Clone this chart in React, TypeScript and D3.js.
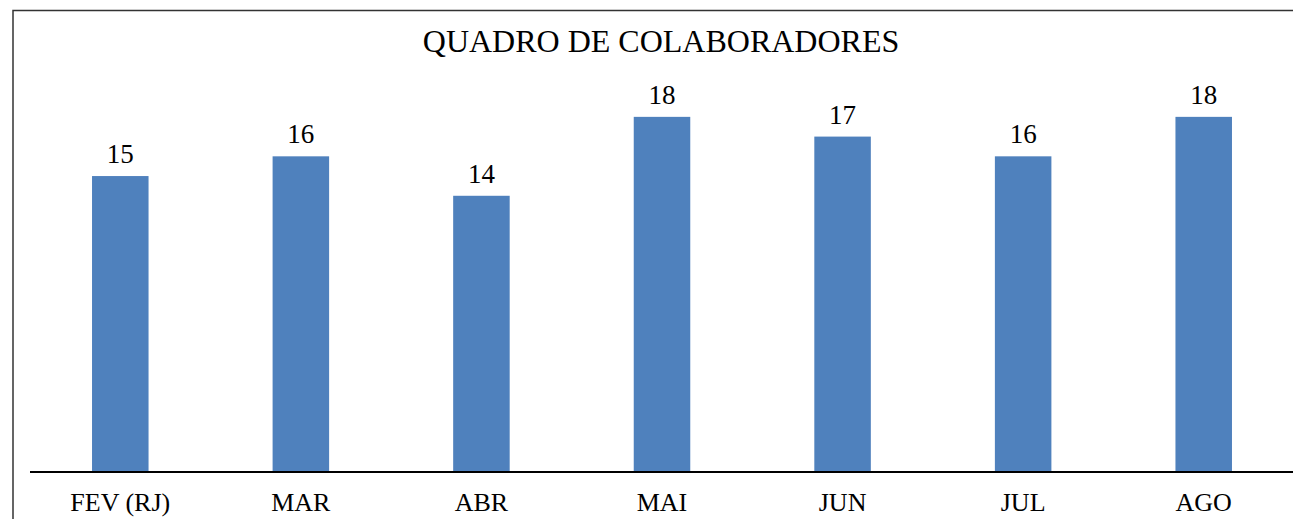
import React from "react";
import * as d3 from "d3";

const months = ["FEV (RJ)", "MAR", "ABR", "MAI", "JUN", "JUL", "AGO"];
const staff = [15, 16, 14, 18, 17, 16, 18];
const title = "QUADRO DE COLABORADORES";

const W = 1293;
const H = 519;
const baseY = 472;

export default function App() {
  const x = d3.scaleBand<string>()
    .domain(months)
    .range([30, 1294])
    .paddingInner(0.687)
    .paddingOuter(0.3435);

  const y = d3.scaleLinear()
    .domain([0, 20])
    .range([baseY, 77.4]);

  const serif = "'Liberation Serif', 'Times New Roman', serif";

  return (
    <svg
      width={W}
      height={H}
      style={{ position: "absolute", left: 0, top: 0, background: "#fff" }}
    >
      {/* chart frame, right and bottom edges run off the page */}
      <rect x={13} y={10.5} width={1400} height={600} fill="#fff" stroke="#333" strokeWidth={1.5} />

      <text x={661} y={52} textAnchor="middle" fontFamily={serif} fontSize={32} fill="#000">
        {title}
      </text>

      {staff.map((v, i) => {
        const m = months[i];
        const bx = x(m) as number;
        return (
          <g key={m}>
            <rect x={bx} y={y(v)} width={x.bandwidth()} height={baseY - y(v)} fill="#4F81BD" />
            <text
              x={bx + x.bandwidth() / 2}
              y={y(v) - 13}
              textAnchor="middle"
              fontFamily={serif}
              fontSize={27}
              fill="#000"
            >
              {v}
            </text>
          </g>
        );
      })}

      <line x1={30} x2={W} y1={baseY} y2={baseY} stroke="#000" strokeWidth={2} />

      {months.map((m) => (
        <text
          key={m}
          x={(x(m) as number) + x.bandwidth() / 2}
          y={511}
          textAnchor="middle"
          fontFamily={serif}
          fontSize={26}
          fill="#000"
        >
          {m}
        </text>
      ))}
    </svg>
  );
}
